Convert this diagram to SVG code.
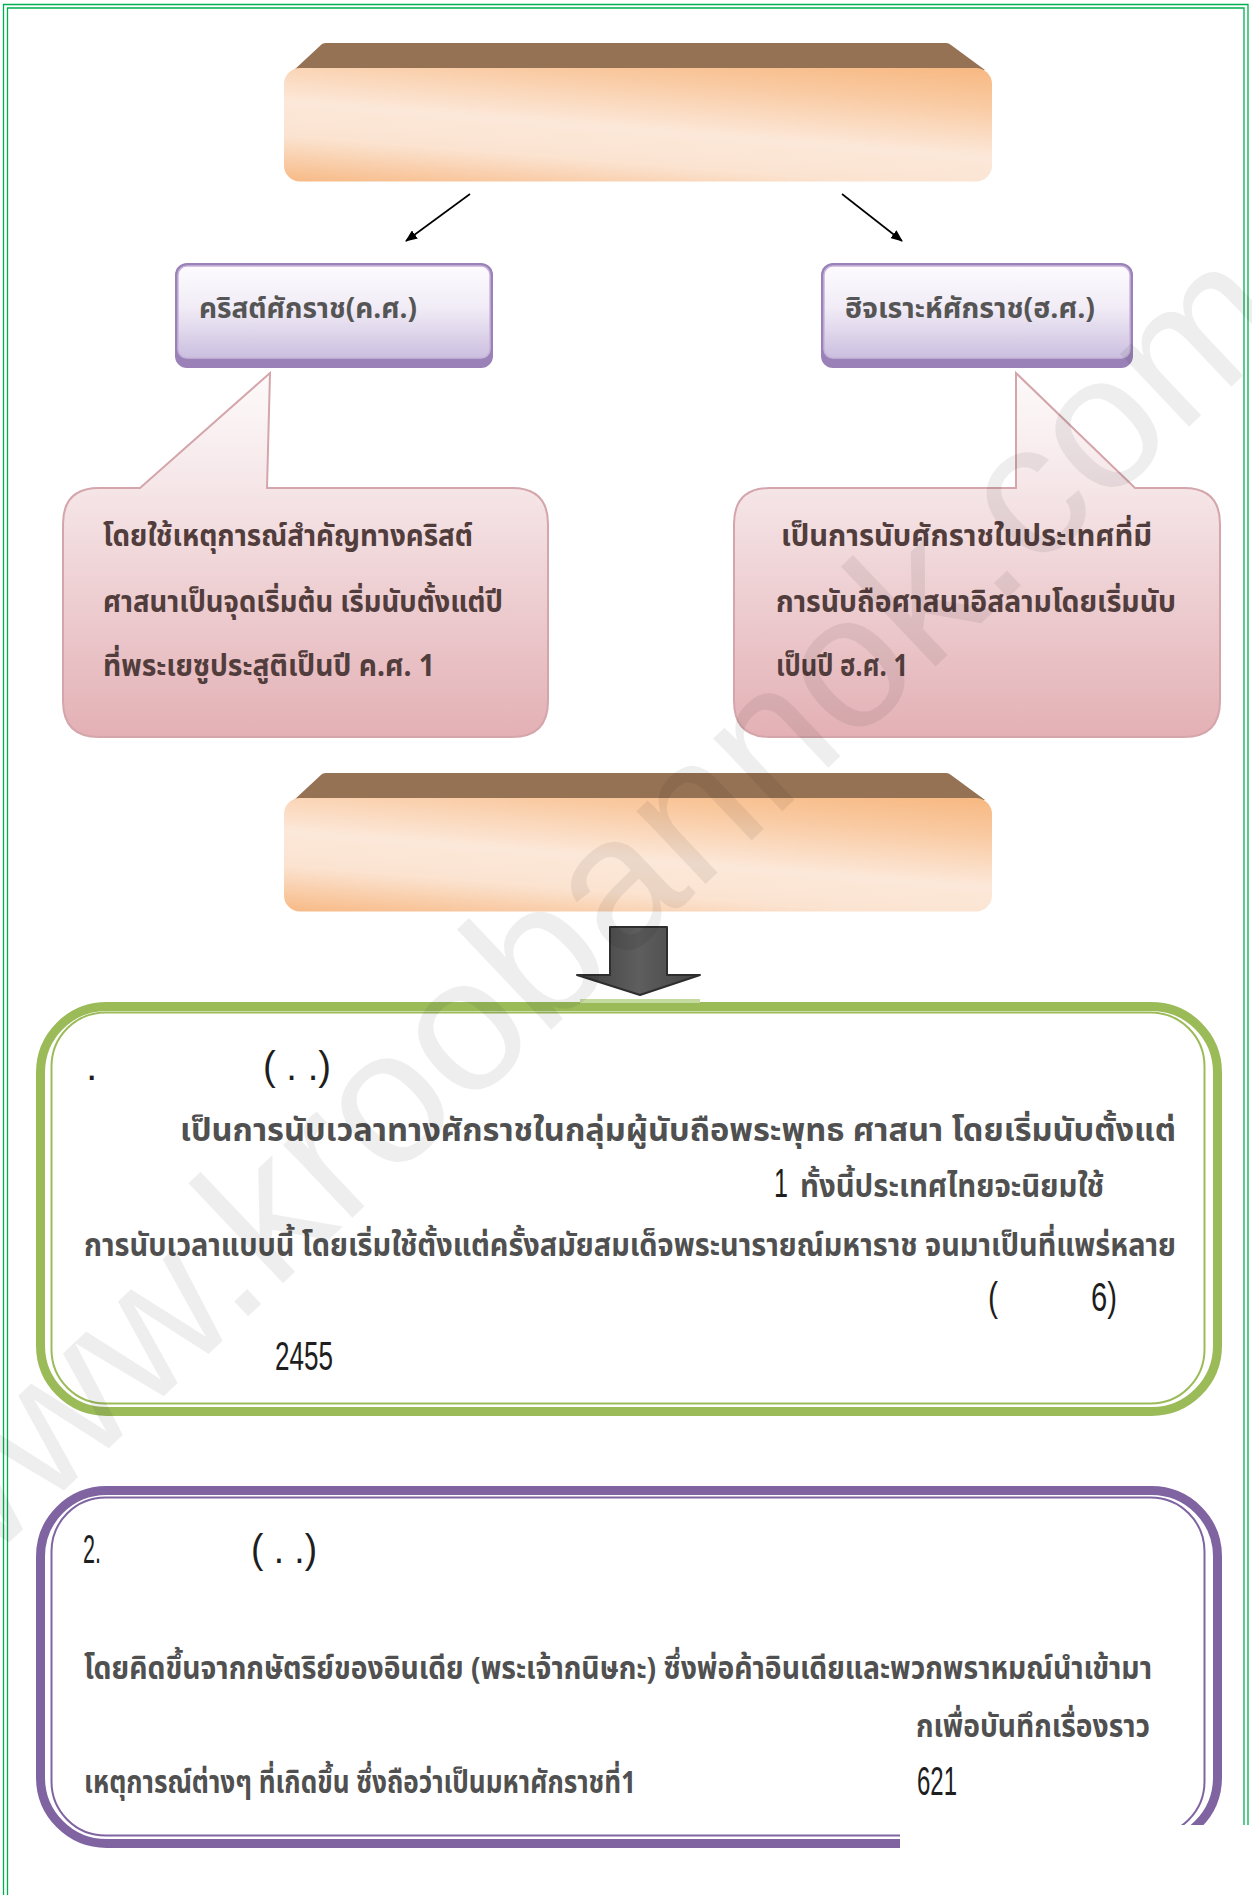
<svg xmlns="http://www.w3.org/2000/svg" width="1252" height="1895" viewBox="0 0 1252 1895">
<style>
.frame{fill:none;stroke:#00b050;stroke-width:1.3}
.thai{font-family:"Noto Sans Thai","Noto Sans","DejaVu Sans",sans-serif}
.lbl{font-size:28px;fill:#555;font-weight:bold}
.bub{font-size:30px;fill:#523d3d;font-weight:bold}
.body{font-size:31px;fill:#505050;font-weight:bold}
.num{font-family:"Liberation Sans",Arial,sans-serif;font-size:41px;fill:#1e1e1e}
.conn{stroke:#000;stroke-width:1.6;fill:none}
.wm{font-family:"Liberation Sans",Arial,sans-serif;font-size:190px;fill:#000;fill-opacity:0.065}
</style>
<defs>
<linearGradient id="peach" gradientUnits="userSpaceOnUse" x1="646" y1="38" x2="632" y2="213">
<stop offset="0" stop-color="#f7b77f"/>
<stop offset="0.22" stop-color="#f9c9a0"/>
<stop offset="0.52" stop-color="#fce8d9"/>
<stop offset="0.72" stop-color="#fbe3d0"/>
<stop offset="1" stop-color="#f7b680"/>
</linearGradient>
<linearGradient id="lav" x1="0" y1="0" x2="0" y2="1">
<stop offset="0" stop-color="#fdfbfe"/>
<stop offset="0.45" stop-color="#f1ecf6"/>
<stop offset="1" stop-color="#cbbfdf"/>
</linearGradient>
<linearGradient id="pink" x1="0" y1="0" x2="0" y2="1">
<stop offset="0" stop-color="#fdfafa"/>
<stop offset="0.3" stop-color="#f6e7e9"/>
<stop offset="1" stop-color="#e3b0b5"/>
</linearGradient>
<linearGradient id="arrowg" x1="0" y1="0" x2="1" y2="0">
<stop offset="0" stop-color="#3e3e3e"/>
<stop offset="0.5" stop-color="#5e5e5e"/>
<stop offset="1" stop-color="#444"/>
</linearGradient>
<marker id="ah" viewBox="0 0 12 10" refX="11" refY="5" markerWidth="12" markerHeight="10" markerUnits="userSpaceOnUse" orient="auto">
<path d="M0,0 L12,5 L0,10 Z" fill="#000"/>
</marker>
</defs>
<rect width="1252" height="1895" fill="#fff"/>
<g id="page-frame">
<path class="frame" d="M3.5,1895 V4.5 H1248 V1895"/>
<path class="frame" d="M7.5,1895 V8 H1244 V1895"/>
</g>

<g id="title1">
<path d="M322,44 Q324,43 326,43 H946 Q949,43 951,45 L985,70 H294 Z" fill="#957254"/>
<rect x="284" y="68" width="708" height="113.5" rx="16" fill="url(#peach)"/>
</g>

<g id="node-ce">
<rect x="175" y="263" width="318" height="105" rx="12" fill="#9a82b8"/>
<rect x="178" y="266" width="312" height="92" rx="9" fill="url(#lav)" stroke="#c7b5da" stroke-width="1.5"/>
<text class="thai lbl" x="199" y="318" textLength="218" lengthAdjust="spacingAndGlyphs">คริสต์ศักราช(ค.ศ.)</text>
</g>

<g id="node-ah">
<rect x="821" y="263" width="312" height="105" rx="12" fill="#9a82b8"/>
<rect x="824" y="266" width="306" height="92" rx="9" fill="url(#lav)" stroke="#c7b5da" stroke-width="1.5"/>
<text class="thai lbl" x="845" y="318" textLength="250" lengthAdjust="spacingAndGlyphs">ฮิจเราะห์ศักราช(ฮ.ศ.)</text>
</g>

<g id="callout-ce">
<path d="M99,488 H140 L270,373 L267,488 H512 Q548,488 548,524 V701 Q548,737 512,737 H99 Q63,737 63,701 V524 Q63,488 99,488 Z" fill="url(#pink)" stroke="#d4a6ab" stroke-width="2"/>
<text class="thai bub" x="103" y="546" textLength="370" lengthAdjust="spacingAndGlyphs">โดยใช้เหตุการณ์สำคัญทางคริสต์</text>
<text class="thai bub" x="103" y="612" textLength="400" lengthAdjust="spacingAndGlyphs">ศาสนาเป็นจุดเริ่มต้น เริ่มนับตั้งแต่ปี</text>
<text class="thai bub" x="103" y="676" textLength="332" lengthAdjust="spacingAndGlyphs">ที่พระเยซูประสูติเป็นปี ค.ศ. 1</text>
</g>

<g id="callout-ah">
<path d="M770,488 H1016 V373 L1135,488 H1184 Q1220,488 1220,524 V701 Q1220,737 1184,737 H770 Q734,737 734,701 V524 Q734,488 770,488 Z" fill="url(#pink)" stroke="#d4a6ab" stroke-width="2"/>
<text class="thai bub" x="781" y="546" textLength="371" lengthAdjust="spacingAndGlyphs">เป็นการนับศักราชในประเทศที่มี</text>
<text class="thai bub" x="776" y="612" textLength="400" lengthAdjust="spacingAndGlyphs">การนับถือศาสนาอิสลามโดยเริ่มนับ</text>
<text class="thai bub" x="776" y="676" textLength="132" lengthAdjust="spacingAndGlyphs">เป็นปี ฮ.ศ. 1</text>
</g>

<g id="title2" transform="translate(0,730)">
<path d="M322,44 Q324,43 326,43 H946 Q949,43 951,45 L985,70 H294 Z" fill="#957254"/>
<rect x="284" y="68" width="708" height="113.5" rx="16" fill="url(#peach)"/>
</g>

<g id="box-be">
<rect x="40.5" y="1006.5" width="1177" height="405" rx="66" fill="none" stroke="#9bbb59" stroke-width="9"/>
<rect x="51.5" y="1012.5" width="1153" height="391" rx="54" fill="none" stroke="#9bbb59" stroke-width="2"/>
<rect x="580" y="999" width="120" height="4" fill="#c5da9f"/>
<text class="num" x="86" y="1080">.</text>
<text class="num" x="263" y="1080" textLength="68" lengthAdjust="spacingAndGlyphs">( . .)</text>
<text class="thai body" x="180" y="1141" textLength="996" lengthAdjust="spacingAndGlyphs">เป็นการนับเวลาทางศักราชในกลุ่มผู้นับถือพระพุทธ ศาสนา โดยเริ่มนับตั้งแต่</text>
<text class="num" x="774" y="1197" textLength="14" lengthAdjust="spacingAndGlyphs">1</text>
<text class="thai body" x="800" y="1197" textLength="304" lengthAdjust="spacingAndGlyphs">ทั้งนี้ประเทศไทยจะนิยมใช้</text>
<text class="thai body" x="84" y="1256" textLength="1092" lengthAdjust="spacingAndGlyphs">การนับเวลาแบบนี้ โดยเริ่มใช้ตั้งแต่ครั้งสมัยสมเด็จพระนารายณ์มหาราช จนมาเป็นที่แพร่หลาย</text>
<text class="num" x="988" y="1311" textLength="10" lengthAdjust="spacingAndGlyphs">(</text>
<text class="num" x="1091" y="1311" textLength="26" lengthAdjust="spacingAndGlyphs">6)</text>
<text class="num" x="275" y="1370" textLength="58" lengthAdjust="spacingAndGlyphs">2455</text>
</g>

<g id="box-ms">
<rect x="40.5" y="1490.5" width="1177" height="353" rx="66" fill="none" stroke="#8064a2" stroke-width="9"/>
<rect x="51.5" y="1497.5" width="1153" height="338" rx="54" fill="none" stroke="#8064a2" stroke-width="2"/>
<text class="num" x="83" y="1563" textLength="18" lengthAdjust="spacingAndGlyphs">2.</text>
<text class="num" x="251" y="1563" textLength="66" lengthAdjust="spacingAndGlyphs">( . .)</text>
<text class="thai body" x="84" y="1679" textLength="1068" lengthAdjust="spacingAndGlyphs">โดยคิดขึ้นจากกษัตริย์ของอินเดีย (พระเจ้ากนิษกะ) ซึ่งพ่อค้าอินเดียและพวกพราหมณ์นำเข้ามา</text>
<text class="thai body" x="916" y="1737" textLength="234" lengthAdjust="spacingAndGlyphs">กเพื่อบันทึกเรื่องราว</text>
<text class="thai body" x="84" y="1793" textLength="552" lengthAdjust="spacingAndGlyphs">เหตุการณ์ต่างๆ ที่เกิดขึ้น ซึ่งถือว่าเป็นมหาศักราชที่1</text>
<text class="num" x="917" y="1795" textLength="40" lengthAdjust="spacingAndGlyphs">621</text>
</g>

<rect id="cover" x="900" y="1825" width="352" height="70" fill="#fff"/>

<g id="connectors">
<line class="conn" x1="470" y1="194" x2="406" y2="241" marker-end="url(#ah)"/>
<line class="conn" x1="842" y1="194" x2="902" y2="241" marker-end="url(#ah)"/>
<path d="M610,927 H667 V975 H700 L640,995 L577,975 H610 Z" fill="url(#arrowg)" stroke="#2e2e2e" stroke-width="2" stroke-linejoin="round"/>
</g>

<text class="wm" x="-56" y="1604" transform="rotate(-43.4 -56 1604)">www.kroobannok.com</text>
</svg>
